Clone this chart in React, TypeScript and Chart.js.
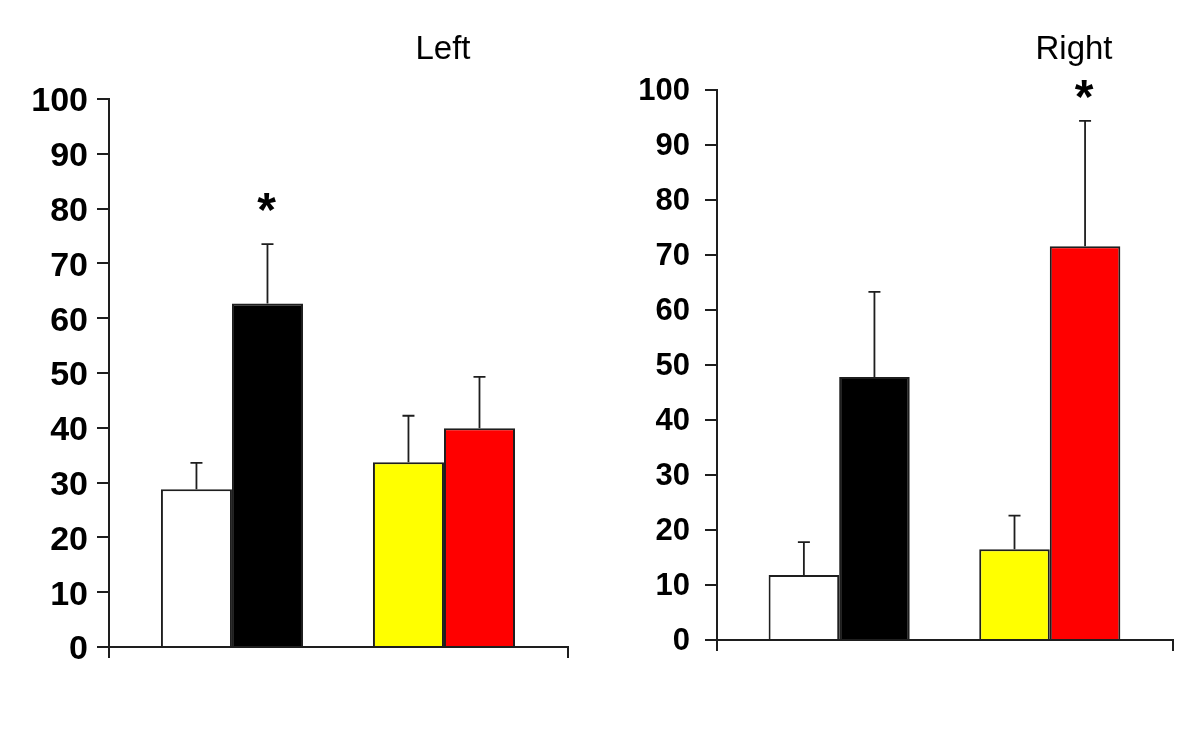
import React, { useEffect, useRef } from 'react';
import { Chart, registerables } from 'chart.js';

Chart.register(...registerables);

// ---- data ----
const groupPositions = [1, 2];
const yMin = 0;
const yMax = 100;
const yStep = 10;

const leftFirstValues = [28.8, 33.7];
const leftFirstErrors = [4.8, 8.5];
const leftSecondValues = [62.7, 39.9];
const leftSecondErrors = [10.8, 9.4];
const leftStars = ['*', ''];
const leftStarLevel = 81.6;

const rightFirstValues = [11.8, 16.5];
const rightFirstErrors = [6.0, 6.1];
const rightSecondValues = [47.8, 71.6];
const rightSecondErrors = [15.5, 22.8];
const rightStars = ['', '*'];
const rightStarLevel = 100.7;

const firstColors = ['#ffffff', '#ffff00'];
const secondColors = ['#000000', '#ff0000'];

const FONT = '"Liberation Sans", Arial, Helvetica, sans-serif';
const LINE = '#1e1e1e';

const errorBarPlugin = {
  id: 'errorBars',
  afterDatasetsDraw(chart: any) {
    const ctx = chart.ctx;
    const yScale = chart.scales.y;
    ctx.save();
    ctx.strokeStyle = LINE;
    ctx.lineWidth = 1.8;
    chart.data.datasets.forEach((ds: any, di: number) => {
      const meta = chart.getDatasetMeta(di);
      meta.data.forEach((bar: any, i: number) => {
        const v = ds.data[i].y;
        const e = ds.errors[i];
        const top = yScale.getPixelForValue(v + e);
        ctx.beginPath();
        ctx.moveTo(bar.x, bar.y);
        ctx.lineTo(bar.x, top);
        ctx.moveTo(bar.x - 6, top);
        ctx.lineTo(bar.x + 6, top);
        ctx.stroke();
        const star = ds.stars ? ds.stars[i] : '';
        if (star) {
          const fs = 48;
          ctx.fillStyle = '#000';
          ctx.font = `bold ${fs}px ${FONT}`;
          ctx.textAlign = 'center';
          ctx.textBaseline = 'alphabetic';
          const cy = yScale.getPixelForValue(ds.starLevel);
          ctx.fillText(star, bar.x - 1, cy + 0.555 * fs);
        }
      });
    });
    ctx.restore();
  },
  afterDraw(chart: any) {
    const o = chart.options.plugins.panelTitle;
    if (!o) return;
    const ctx = chart.ctx;
    ctx.save();
    ctx.fillStyle = '#000';
    ctx.font = `normal 33px ${FONT}`;
    ctx.textAlign = 'center';
    ctx.textBaseline = 'alphabetic';
    ctx.fillText(o.text, o.x, o.y);
    ctx.restore();
  },
};

type PanelProps = {
  title: string;
  titleX: number;
  left: number;
  chartLeft: number;
  chartRight: number;
  chartTop: number;
  chartBottom: number;
  tickFontSize: number;
  tickPadding: number;
  labelOffset: number;
  first: number[];
  firstErr: number[];
  second: number[];
  secondErr: number[];
  stars: string[];
  starLevel: number;
};

const W = 600;
const H = 733;

function Panel(p: PanelProps) {
  const ref = useRef<HTMLCanvasElement | null>(null);
  useEffect(() => {
    if (!ref.current) return;
    const xMin = 0.42;
    const xMax = 2.585;
    const chart = new Chart(ref.current, {
      type: 'bar',
      data: {
        datasets: [
          {
            data: groupPositions.map((x, i) => ({ x, y: p.first[i] })),
            errors: p.firstErr,
            backgroundColor: firstColors,
            borderColor: LINE,
            borderWidth: 2,
          } as any,
          {
            data: groupPositions.map((x, i) => ({ x, y: p.second[i] })),
            errors: p.secondErr,
            stars: p.stars,
            starLevel: p.starLevel,
            backgroundColor: secondColors,
            borderColor: LINE,
            borderWidth: 2,
          } as any,
        ],
      },
      options: {
        animation: false,
        responsive: false,
        maintainAspectRatio: false,
        devicePixelRatio: 1,
        layout: {
          padding: {
            left: 0,
            top: p.chartTop,
            right: W - p.chartRight,
            bottom: H - p.chartBottom,
          },
        },
        datasets: {
          bar: {
            categoryPercentage: 0.67,
            barPercentage: 1,
          },
        },
        plugins: {
          legend: { display: false },
          tooltip: { enabled: false },
          title: { display: false },
          panelTitle: { text: p.title, x: p.titleX, y: 59 },
        } as any,
        scales: {
          x: {
            type: 'linear',
            min: xMin,
            max: xMax,
            offset: false,
            afterBuildTicks: (scale: any) => {
              scale.ticks = [{ value: xMin }, { value: xMax }];
            },
            afterFit: (scale: any) => {
              scale.height = 0;
            },
            ticks: { display: false },
            grid: {
              display: true,
              offset: false,
              drawOnChartArea: false,
              drawTicks: true,
              tickLength: 11,
              color: LINE,
              lineWidth: 2,
            },
            border: { display: true, color: LINE, width: 2 },
          },
          y: {
            type: 'linear',
            min: yMin,
            max: yMax,
            afterFit: (scale: any) => {
              scale.width = p.chartLeft;
            },
            ticks: {
              stepSize: yStep,
              color: '#000',
              padding: p.tickPadding,
              labelOffset: p.labelOffset,
              font: { family: FONT, size: p.tickFontSize, weight: 'bold' },
            },
            grid: {
              display: true,
              drawOnChartArea: false,
              drawTicks: true,
              tickLength: 12,
              color: LINE,
              lineWidth: 2,
            },
            border: { display: true, color: LINE, width: 2 },
          },
        },
      } as any,
      plugins: [errorBarPlugin],
    });
    return () => chart.destroy();
  }, []);
  return (
    <canvas
      ref={ref}
      width={W}
      height={H}
      style={{ position: 'absolute', left: p.left, top: 0, width: W, height: H, display: 'block' }}
    />
  );
}

export default function App() {
  return (
    <div style={{ position: 'fixed', left: 0, top: 0, width: 1200, height: 733, background: '#fff', overflow: 'hidden' }}>
      <Panel
        title="Left"
        titleX={443}
        left={0}
        chartLeft={109}
        chartRight={568}
        chartTop={99}
        chartBottom={647}
        tickFontSize={34}
        tickPadding={9}
        labelOffset={3}
        first={leftFirstValues}
        firstErr={leftFirstErrors}
        second={leftSecondValues}
        secondErr={leftSecondErrors}
        stars={leftStars}
        starLevel={leftStarLevel}
      />
      <Panel
        title="Right"
        titleX={474}
        left={600}
        chartLeft={117}
        chartRight={573}
        chartTop={90}
        chartBottom={640}
        tickFontSize={31}
        tickPadding={15}
        labelOffset={1}
        first={rightFirstValues}
        firstErr={rightFirstErrors}
        second={rightSecondValues}
        secondErr={rightSecondErrors}
        stars={rightStars}
        starLevel={rightStarLevel}
      />
    </div>
  );
}
